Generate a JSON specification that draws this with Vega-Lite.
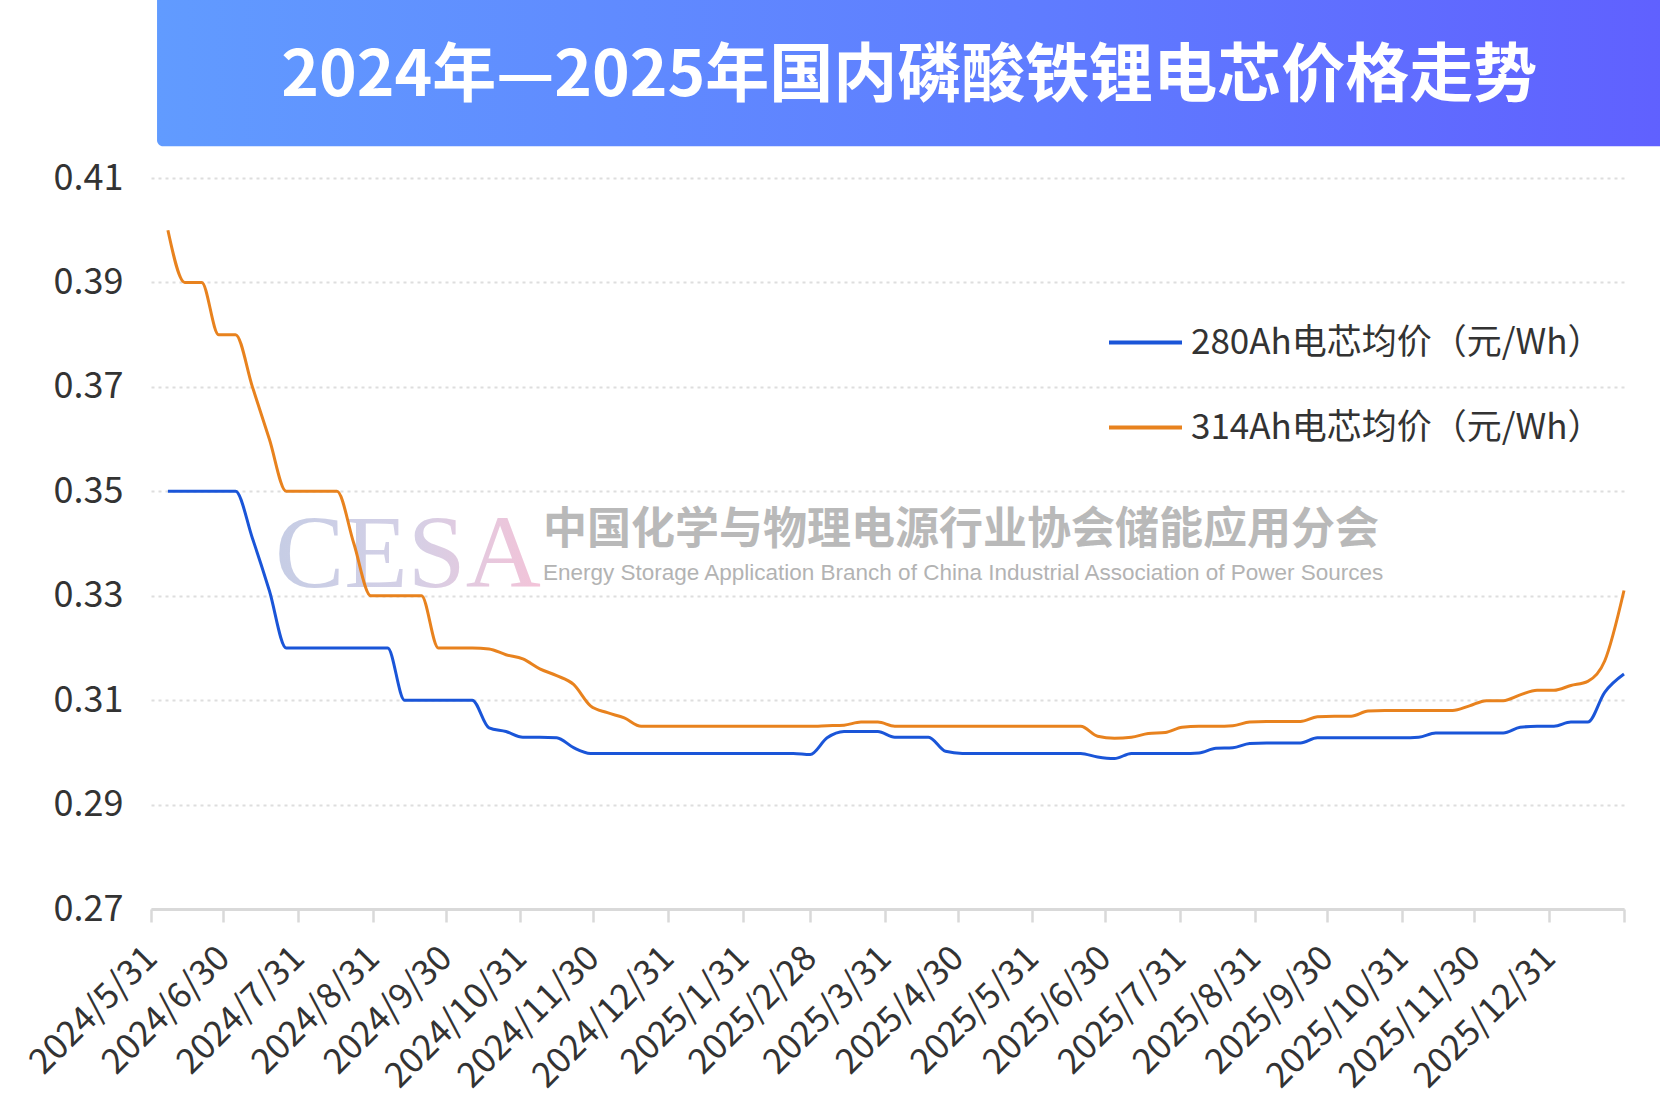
{
  "$schema": "https://vega.github.io/schema/vega-lite/v6.json",
  "description": "2024-2025 domestic LFP cell prices, 280Ah vs 314Ah",
  "autosize": {"type": "none"},
  "padding": {"left": 151, "top": 178, "right": 36, "bottom": 202},
  "width": 1473,
  "height": 731,
  "background": "#ffffff",
  "config": {
    "font": "Noto Sans CJK SC",
    "view": {"stroke": null}
  },
  "layer": [
    {
      "data": {"values": [{}]},
      "mark": {
        "type": "rect",
        "clip": false,
        "cornerRadius": 6,
        "color": {
          "gradient": "linear",
          "x1": 0, "y1": 0, "x2": 1, "y2": 0,
          "stops": [
            {"offset": 0, "color": "#619bff"},
            {"offset": 0.55, "color": "#5f7cff"},
            {"offset": 1, "color": "#605cff"}
          ]
        }
      },
      "encoding": {
        "x": {"datum": {"year": 2024, "month": 6, "date": 2, "hours": 12}, "type": "temporal"},
        "x2": {"datum": {"year": 2026, "month": 3, "date": 31}},
        "y": {"datum": 0.4161, "type": "quantitative"},
        "y2": {"datum": 0.447}
      }
    },
    {
      "data": {"values": [{}]},
      "mark": {
        "type": "text",
        "clip": false,
        "font": "Liberation Serif",
        "fontSize": 104,
        "align": "left",
        "baseline": "alphabetic",
        "color": {
          "gradient": "linear",
          "x1": 0, "y1": 0, "x2": 1, "y2": 0,
          "stops": [
            {"offset": 0, "color": "#c6cde5"},
            {"offset": 0.5, "color": "#d4d0e6"},
            {"offset": 1, "color": "#f3c3d8"}
          ]
        },
        "text": "CESA"
      },
      "encoding": {
        "x": {"datum": {"year": 2024, "month": 7, "date": 21, "hours": 8}, "type": "temporal"},
        "y": {"datum": 0.3317, "type": "quantitative"}
      }
    },
    {
      "data": {"values": [{}]},
      "mark": {
        "type": "text",
        "clip": false,
        "fontSize": 44,
        "fontWeight": "bold",
        "align": "left",
        "baseline": "middle",
        "color": "#b9b9b9",
        "text": "中国化学与物理电源行业协会储能应用分会"
      },
      "encoding": {
        "x": {"datum": {"year": 2024, "month": 11, "date": 9, "hours": 7}, "type": "temporal"},
        "y": {"datum": 0.3423, "type": "quantitative"}
      }
    },
    {
      "data": {"values": [{}]},
      "mark": {
        "type": "text",
        "clip": false,
        "font": "Liberation Sans Narrow, Liberation Sans",
        "fontSize": 22.5,
        "align": "left",
        "baseline": "middle",
        "color": "#b3b3b3",
        "text": "Energy Storage Application Branch of China Industrial Association of Power Sources"
      },
      "encoding": {
        "x": {"datum": {"year": 2024, "month": 11, "date": 9, "hours": 7}, "type": "temporal"},
        "y": {"datum": 0.3343, "type": "quantitative"}
      }
    },
    {
      "data": {
        "values": [
          {"d": "2024-06-07", "c280": 0.350, "c314": 0.400},
          {"d": "2024-06-14", "c280": 0.350, "c314": 0.390},
          {"d": "2024-06-21", "c280": 0.350, "c314": 0.390},
          {"d": "2024-06-28", "c280": 0.350, "c314": 0.380},
          {"d": "2024-07-05", "c280": 0.350, "c314": 0.380},
          {"d": "2024-07-12", "c280": 0.341, "c314": 0.370},
          {"d": "2024-07-19", "c280": 0.331, "c314": 0.360},
          {"d": "2024-07-26", "c280": 0.320, "c314": 0.350},
          {"d": "2024-08-02", "c280": 0.320, "c314": 0.350},
          {"d": "2024-08-09", "c280": 0.320, "c314": 0.350},
          {"d": "2024-08-16", "c280": 0.320, "c314": 0.350},
          {"d": "2024-08-23", "c280": 0.320, "c314": 0.340},
          {"d": "2024-08-30", "c280": 0.320, "c314": 0.330},
          {"d": "2024-09-06", "c280": 0.320, "c314": 0.330},
          {"d": "2024-09-13", "c280": 0.310, "c314": 0.330},
          {"d": "2024-09-20", "c280": 0.310, "c314": 0.330},
          {"d": "2024-09-27", "c280": 0.310, "c314": 0.320},
          {"d": "2024-10-04", "c280": 0.310, "c314": 0.320},
          {"d": "2024-10-11", "c280": 0.310, "c314": 0.320},
          {"d": "2024-10-18", "c280": 0.3047, "c314": 0.3198},
          {"d": "2024-10-25", "c280": 0.3040, "c314": 0.3187},
          {"d": "2024-11-01", "c280": 0.3029, "c314": 0.3179},
          {"d": "2024-11-08", "c280": 0.3029, "c314": 0.3160},
          {"d": "2024-11-15", "c280": 0.3028, "c314": 0.3147},
          {"d": "2024-11-22", "c280": 0.3009, "c314": 0.3130},
          {"d": "2024-11-29", "c280": 0.2998, "c314": 0.3089},
          {"d": "2024-12-06", "c280": 0.2998, "c314": 0.3076},
          {"d": "2024-12-13", "c280": 0.2998, "c314": 0.3066},
          {"d": "2024-12-20", "c280": 0.2998, "c314": 0.3050},
          {"d": "2024-12-27", "c280": 0.2998, "c314": 0.3050},
          {"d": "2025-01-03", "c280": 0.2998, "c314": 0.3050},
          {"d": "2025-01-10", "c280": 0.2998, "c314": 0.3050},
          {"d": "2025-01-17", "c280": 0.2998, "c314": 0.3050},
          {"d": "2025-01-24", "c280": 0.2998, "c314": 0.3050},
          {"d": "2025-01-31", "c280": 0.2998, "c314": 0.3050},
          {"d": "2025-02-07", "c280": 0.2998, "c314": 0.3050},
          {"d": "2025-02-14", "c280": 0.2998, "c314": 0.3050},
          {"d": "2025-02-21", "c280": 0.2998, "c314": 0.3050},
          {"d": "2025-02-28", "c280": 0.2996, "c314": 0.3050},
          {"d": "2025-03-07", "c280": 0.3028, "c314": 0.3051},
          {"d": "2025-03-14", "c280": 0.3040, "c314": 0.3052},
          {"d": "2025-03-21", "c280": 0.3040, "c314": 0.3058},
          {"d": "2025-03-28", "c280": 0.3040, "c314": 0.3058},
          {"d": "2025-04-04", "c280": 0.3029, "c314": 0.3050},
          {"d": "2025-04-11", "c280": 0.3029, "c314": 0.3050},
          {"d": "2025-04-18", "c280": 0.3029, "c314": 0.3050},
          {"d": "2025-04-25", "c280": 0.3002, "c314": 0.3050},
          {"d": "2025-05-02", "c280": 0.2998, "c314": 0.3050},
          {"d": "2025-05-09", "c280": 0.2998, "c314": 0.3050},
          {"d": "2025-05-16", "c280": 0.2998, "c314": 0.3050},
          {"d": "2025-05-23", "c280": 0.2998, "c314": 0.3050},
          {"d": "2025-05-30", "c280": 0.2998, "c314": 0.3050},
          {"d": "2025-06-06", "c280": 0.2998, "c314": 0.3050},
          {"d": "2025-06-13", "c280": 0.2998, "c314": 0.3050},
          {"d": "2025-06-20", "c280": 0.2998, "c314": 0.3050},
          {"d": "2025-06-27", "c280": 0.2991, "c314": 0.3031},
          {"d": "2025-07-04", "c280": 0.2988, "c314": 0.3027},
          {"d": "2025-07-11", "c280": 0.2998, "c314": 0.3029},
          {"d": "2025-07-18", "c280": 0.2998, "c314": 0.3036},
          {"d": "2025-07-25", "c280": 0.2998, "c314": 0.3038},
          {"d": "2025-08-01", "c280": 0.2998, "c314": 0.3048},
          {"d": "2025-08-08", "c280": 0.2999, "c314": 0.3050},
          {"d": "2025-08-15", "c280": 0.3008, "c314": 0.3050},
          {"d": "2025-08-22", "c280": 0.3009, "c314": 0.3051},
          {"d": "2025-08-29", "c280": 0.3017, "c314": 0.3058},
          {"d": "2025-09-05", "c280": 0.3018, "c314": 0.3059},
          {"d": "2025-09-12", "c280": 0.3018, "c314": 0.3059},
          {"d": "2025-09-19", "c280": 0.3018, "c314": 0.3059},
          {"d": "2025-09-26", "c280": 0.3028, "c314": 0.3068},
          {"d": "2025-10-03", "c280": 0.3028, "c314": 0.3069},
          {"d": "2025-10-10", "c280": 0.3028, "c314": 0.3069},
          {"d": "2025-10-17", "c280": 0.3028, "c314": 0.3079},
          {"d": "2025-10-24", "c280": 0.3028, "c314": 0.3080},
          {"d": "2025-10-31", "c280": 0.3028, "c314": 0.3080},
          {"d": "2025-11-07", "c280": 0.3029, "c314": 0.3080},
          {"d": "2025-11-14", "c280": 0.3037, "c314": 0.3080},
          {"d": "2025-11-21", "c280": 0.3037, "c314": 0.3080},
          {"d": "2025-11-28", "c280": 0.3037, "c314": 0.3089},
          {"d": "2025-12-05", "c280": 0.3037, "c314": 0.3099},
          {"d": "2025-12-12", "c280": 0.3037, "c314": 0.3099},
          {"d": "2025-12-19", "c280": 0.3048, "c314": 0.3110},
          {"d": "2025-12-26", "c280": 0.3050, "c314": 0.3119},
          {"d": "2026-01-02", "c280": 0.3050, "c314": 0.3119},
          {"d": "2026-01-09", "c280": 0.3058, "c314": 0.3128},
          {"d": "2026-01-16", "c280": 0.3058, "c314": 0.3136},
          {"d": "2026-01-23", "c280": 0.3115, "c314": 0.3175},
          {"d": "2026-01-31", "c280": 0.3150, "c314": 0.3310}
        ],
        "format": {"parse": {"d": "date:'%Y-%m-%d'"}}
      },
      "transform": [
        {"fold": ["c280", "c314"], "as": ["series", "price"]}
      ],
      "mark": {"type": "line", "interpolate": "monotone", "strokeWidth": 3},
      "encoding": {
        "x": {
          "field": "d",
          "type": "temporal",
          "scale": {
            "domain": [
              {"year": 2024, "month": 5, "date": 31},
              {"year": 2026, "month": 1, "date": 31}
            ],
            "nice": false
          },
          "axis": {
            "title": null,
            "grid": false,
            "values": [
              {"year": 2024, "month": 5, "date": 31},
              {"year": 2024, "month": 6, "date": 30},
              {"year": 2024, "month": 7, "date": 31},
              {"year": 2024, "month": 8, "date": 31},
              {"year": 2024, "month": 9, "date": 30},
              {"year": 2024, "month": 10, "date": 31},
              {"year": 2024, "month": 11, "date": 30},
              {"year": 2024, "month": 12, "date": 31},
              {"year": 2025, "month": 1, "date": 31},
              {"year": 2025, "month": 2, "date": 28},
              {"year": 2025, "month": 3, "date": 31},
              {"year": 2025, "month": 4, "date": 30},
              {"year": 2025, "month": 5, "date": 31},
              {"year": 2025, "month": 6, "date": 30},
              {"year": 2025, "month": 7, "date": 31},
              {"year": 2025, "month": 8, "date": 31},
              {"year": 2025, "month": 9, "date": 30},
              {"year": 2025, "month": 10, "date": 31},
              {"year": 2025, "month": 11, "date": 30},
              {"year": 2025, "month": 12, "date": 31},
              {"year": 2026, "month": 1, "date": 31}
            ],
            "labelExpr": "datum.value > datetime(2026, 0, 1) ? '' : timeFormat(datum.value, '%Y/%-m/%-d')",
            "labelAngle": -45,
            "labelAlign": "right",
            "labelBaseline": "middle",
            "labelFontSize": 35,
            "labelColor": "#333333",
            "labelPadding": 30,
            "labelLimit": 500,
            "labelOverlap": false,
            "labelFlush": false,
            "labelBound": false,
            "tickSize": 13,
            "tickWidth": 2.5,
            "tickColor": "#d9d9d9",
            "domainColor": "#d9d9d9",
            "domainWidth": 3
          }
        },
        "y": {
          "field": "price",
          "type": "quantitative",
          "scale": {"domain": [0.27, 0.41], "nice": false, "zero": false},
          "axis": {
            "title": null,
            "values": [0.27, 0.29, 0.31, 0.33, 0.35, 0.37, 0.39, 0.41],
            "format": ".2f",
            "domain": false,
            "ticks": false,
            "grid": true,
            "gridDash": [3, 4],
            "gridColor": "#dedede",
            "gridWidth": 2,
            "labelFontSize": 36,
            "labelColor": "#333333",
            "labelPadding": 28
          }
        },
        "color": {
          "field": "series",
          "type": "nominal",
          "scale": {"domain": ["c280", "c314"], "range": ["#1a55d8", "#e8821e"]},
          "legend": {
            "title": null,
            "orient": "none",
            "legendX": 956,
            "legendY": 126,
            "symbolType": "stroke",
            "symbolSize": 5329,
            "symbolStrokeWidth": 4,
            "labelFontSize": 35,
            "labelColor": "#333333",
            "labelOffset": 7,
            "rowPadding": 28,
            "labelLimit": 600,
            "labelExpr": "datum.label == 'c280' ? '280Ah电芯均价（元/Wh）' : '314Ah电芯均价（元/Wh）'"
          }
        }
      }
    },
    {
      "data": {"values": [{}]},
      "mark": {
        "type": "text",
        "clip": false,
        "fontSize": 64,
        "fontWeight": "bold",
        "align": "center",
        "baseline": "middle",
        "color": "#ffffff",
        "text": "2024年—2025年国内磷酸铁锂电芯价格走势"
      },
      "encoding": {
        "x": {"datum": {"year": 2025, "month": 4, "date": 10}, "type": "temporal"},
        "y": {"datum": 0.4294, "type": "quantitative"}
      }
    }
  ]
}
